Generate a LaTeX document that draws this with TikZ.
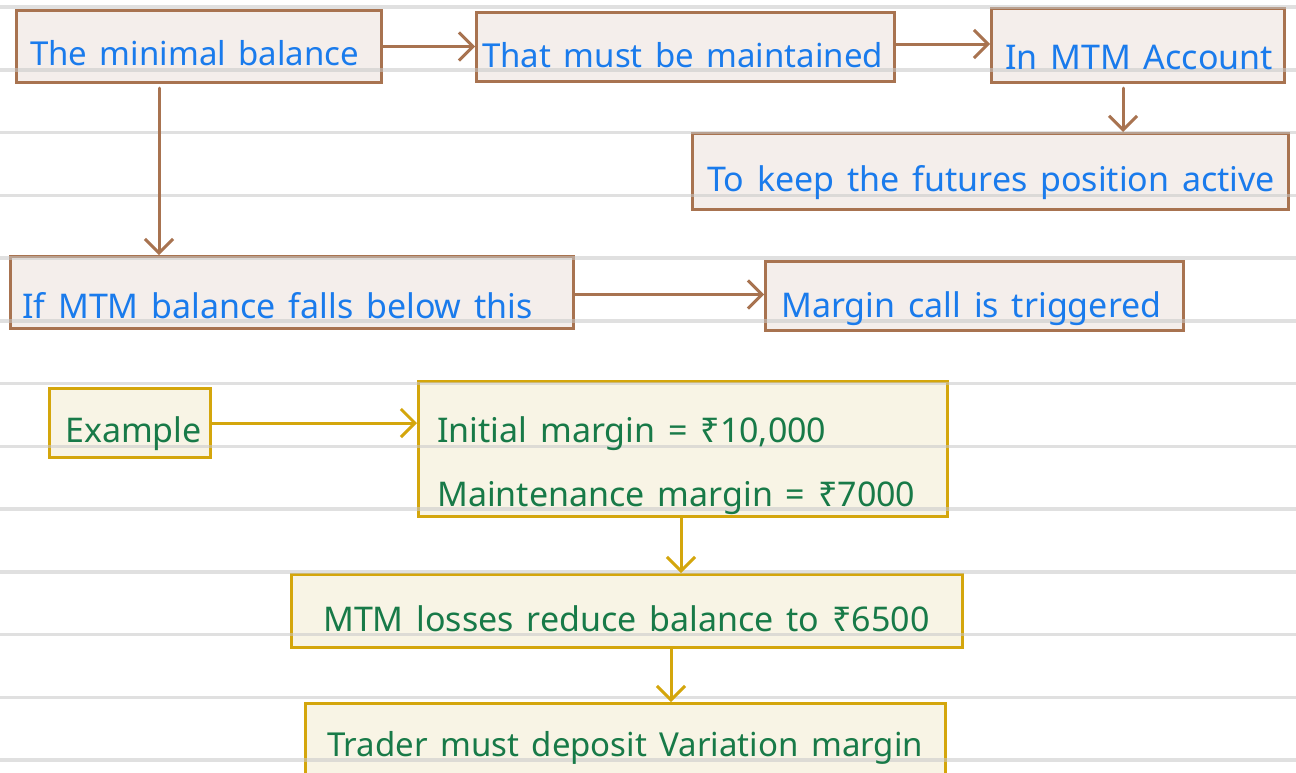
\documentclass[tikz,border=0pt]{standalone}
\usepackage{fontspec}
\setmainfont[WordSpace=1.45]{Noto Sans}
\usetikzlibrary{arrows.meta}
\definecolor{brownc}{RGB}{168,115,80}
\definecolor{fillA}{RGB}{244,238,235}
\definecolor{bluet}{RGB}{26,123,236}
\definecolor{yellowc}{RGB}{212,166,12}
\definecolor{fillB}{RGB}{248,244,229}
\definecolor{greent}{RGB}{24,122,72}
\definecolor{rulec}{RGB}{200,200,200}
\tikzset{
  boxA/.style={draw=brownc, fill=fillA, line width=3pt, anchor=north west, inner sep=0pt},
  boxB/.style={draw=yellowc, fill=fillB, line width=3pt, anchor=north west, inner sep=0pt},
  txtA/.style={anchor=base west, inner sep=0pt, text=bluet, font=\fontsize{34}{40}\selectfont},
  txtB/.style={anchor=base west, inner sep=0pt, text=greent, font=\fontsize{34}{40}\selectfont},
  smaller/.style={font=\fontsize{33}{40}\selectfont},
  arrA/.style={draw=brownc, line width=3pt, line cap=round, line join=round, -{Straight Barb[length=14pt,width=28pt,line width=3pt]}},
  arrB/.style={draw=yellowc, line width=3pt, line cap=round, line join=round, -{Straight Barb[length=14pt,width=28pt,line width=3pt]}},
  rule/.style={draw=rulec, line width=3.5pt, opacity=0.55}
}
\begin{document}
\begin{tikzpicture}[x=1pt,y=-1pt]
\useasboundingbox (0,0) rectangle (1296,772);
\fill[white] (0,0) rectangle (1296,772);
% boxes
\node[boxA, minimum width=365pt, minimum height=72pt] (b1) at (15,9) {};
\node[boxA, minimum width=418pt, minimum height=69pt] (b2) at (475,11) {};
\node[boxA, minimum width=293pt, minimum height=74pt] (b3) at (990,7) {};
\node[boxA, minimum width=596pt, minimum height=76pt] (b4) at (691,132) {};
\node[boxA, minimum width=563pt, minimum height=72pt] (b5) at (9,255) {};
\node[boxA, minimum width=418pt, minimum height=69pt] (b6) at (764,260) {};
\node[boxB, minimum width=161pt, minimum height=69pt] (b7) at (48,387) {};
\node[boxB, minimum width=529pt, minimum height=135pt] (b8) at (417,380) {};
\node[boxB, minimum width=671pt, minimum height=73pt] (b9) at (290,573) {};
\node[boxB, minimum width=640pt, minimum height=90pt] (b10) at (304,702) {};
% ruled lines
\foreach \k in {0,...,12} {
  \draw[rule] (0,{7+62.75*\k}) -- (1296,{7+62.75*\k});
}
% texts
\node[txtA, smaller] (t1) at (30,65) {The minimal balance};
\node[txtA, smaller] (t2) at (482,67) {That must be maintained};
\node[txtA] (t3) at (1005,69) {In MTM Account};
\node[txtA] (t4) at (707,191) {To keep the futures position active};
\node[txtA] (t5) at (22,318) {If MTM balance falls below this};
\node[txtA] (t6) at (781,317) {Margin call is triggered};
\node[txtB] (t7) at (65,442) {Example};
\node[txtB] (t8a) at (437,442) {Initial margin = ₹10,000};
\node[txtB] (t8b) at (437,506) {Maintenance margin = ₹7000};
\node[txtB] (t9) at (323,631) {MTM losses reduce balance to ₹6500};
\node[txtB, smaller] (t10) at (327,756) {Trader must deposit Variation margin};
% connectors
\coordinate (c15) at ([xshift=-40pt]b1.south);
\coordinate (c34) at ([xshift=-15pt]b3.south);
\coordinate (c910) at ([xshift=44pt]b9.south);
\coordinate (c89) at ([xshift=-2pt]b8.south);
\draw[arrA] (b1.east) -- (b1.east -| b2.west);
\draw[arrA] ([yshift=3pt]b2.east) -- ([yshift=3pt]b2.east -| b3.west);
\draw[arrA, shorten <=4pt] (c34) -- (c34 |- b4.north);
\draw[arrA, shorten <=4pt] (c15) -- (c15 |- b5.north);
\draw[arrA] ([yshift=-2pt]b5.east) -- ([yshift=-2pt]b5.east -| b6.west);
\draw[arrB] (b7.east) -- (b7.east -| b8.west);
\draw[arrB] (c89) -- (c89 |- b9.north);
\draw[arrB] (c910) -- (c910 |- b10.north);
\end{tikzpicture}
\end{document}
